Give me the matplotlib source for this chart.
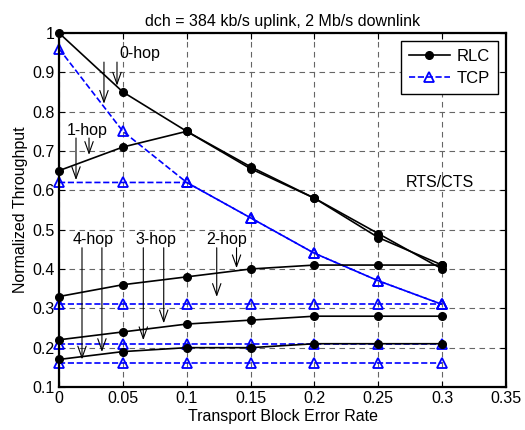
import numpy as np
import matplotlib.pyplot as plt

plt.rcParams['font.family'] = ['Liberation Sans', 'DejaVu Sans']

bler = [0, 0.05, 0.1, 0.15, 0.2, 0.25, 0.3]

# RLC throughput for 0..4 hops
rlc_0 = [1.0, 0.85, 0.75, 0.66, 0.58, 0.49, 0.40]
rlc_1 = [0.65, 0.71, 0.75, 0.655, 0.58, 0.48, 0.41]
rlc_2 = [0.33, 0.36, 0.38, 0.40, 0.41, 0.41, 0.41]
rlc_3 = [0.22, 0.24, 0.26, 0.27, 0.28, 0.28, 0.28]
rlc_4 = [0.17, 0.19, 0.20, 0.20, 0.21, 0.21, 0.21]

# TCP throughput for 0..4 hops
tcp_0 = [0.96, 0.75, 0.62, 0.53, 0.44, 0.37, 0.31]
tcp_1 = [0.62, 0.62, 0.62, 0.53, 0.44, 0.37, 0.31]
tcp_2 = [0.31, 0.31, 0.31, 0.31, 0.31, 0.31, 0.31]
tcp_3 = [0.21, 0.21, 0.21, 0.21, 0.21, 0.21, 0.21]
tcp_4 = [0.16, 0.16, 0.16, 0.16, 0.16, 0.16, 0.16]

# hop label: (text position, list of arrow (start, head))
hop_notes = [
    ("0-hop", (0.063, 0.949), [((0.0454, 0.926), (0.0454, 0.866)), ((0.0352, 0.926), (0.0352, 0.82))]),
    ("1-hop", (0.0219, 0.753), [((0.0235, 0.733), (0.0235, 0.69)), ((0.0133, 0.733), (0.0133, 0.626))]),
    ("4-hop", (0.027, 0.474), [((0.018, 0.454), (0.018, 0.17)), ((0.0336, 0.454), (0.0336, 0.189))]),
    ("3-hop", (0.0755, 0.474), [((0.066, 0.454), (0.066, 0.219)), ((0.082, 0.454), (0.082, 0.262))]),
    ("2-hop", (0.131, 0.474), [((0.1235, 0.454), (0.1235, 0.329)), ((0.139, 0.454), (0.139, 0.402))]),
]

fig = plt.figure(figsize=(5.25, 4.3), dpi=100)
ax = fig.add_axes([0.1124, 0.10, 0.8514, 0.8233])

rlc_style = dict(color='black', linestyle='-', linewidth=1.2, marker='o',
                 markersize=5.5, markerfacecolor='black')
tcp_style = dict(color='blue', linestyle='--', linewidth=1.2, marker='^',
                 markersize=7.5, markerfacecolor='none', markeredgewidth=1.3)

for i, (r, t) in enumerate(zip([rlc_0, rlc_1, rlc_2, rlc_3, rlc_4],
                               [tcp_0, tcp_1, tcp_2, tcp_3, tcp_4])):
    ax.plot(bler, t, label='TCP' if i == 0 else None, clip_on=False, **tcp_style)
    ax.plot(bler, r, label='RLC' if i == 0 else None, clip_on=False, **rlc_style)

for txt, pos, arrows in hop_notes:
    ax.text(pos[0], pos[1], txt, fontsize=11.5, ha='center', va='center')
    for start, head in arrows:
        ax.annotate('', xy=head, xytext=start,
                    arrowprops=dict(arrowstyle='->, head_length=0.7, head_width=0.25',
                                    color='black', lw=0.8, mutation_scale=12,
                                    shrinkA=0, shrinkB=0))

ax.text(0.298, 0.621, 'RTS/CTS', fontsize=11.5, ha='center', va='center')

ax.set_xlim(0, 0.35)
ax.set_ylim(0.1, 1.0)
ax.set_xticks(np.arange(0, 0.351, 0.05))
ax.set_xticklabels(['0', '0.05', '0.1', '0.15', '0.2', '0.25', '0.3', '0.35'])
ax.set_yticks(np.arange(0.1, 1.01, 0.1))
ax.set_yticklabels(['0.1', '0.2', '0.3', '0.4', '0.5', '0.6', '0.7', '0.8', '0.9', '1'])
ax.tick_params(direction='in', top=True, right=True, labelsize=11.5, length=4, pad=3)
ax.grid(True, linestyle=(0, (5, 4)), color='0.4', linewidth=0.8)
for s in ax.spines.values():
    s.set_linewidth(1.6)

ax.set_xlabel('Transport Block Error Rate', fontsize=11.5, labelpad=2)
ax.set_ylabel('Normalized Throughput', fontsize=11.5, labelpad=3)
ax.set_title('dch = 384 kb/s uplink, 2 Mb/s downlink', fontsize=11.5, pad=5)

h, l = ax.get_legend_handles_labels()
order = [l.index('RLC'), l.index('TCP')]
leg = ax.legend([h[i] for i in order], [l[i] for i in order], loc='upper right',
                fontsize=12, numpoints=1, fancybox=False, framealpha=1,
                edgecolor='black', borderaxespad=0.5, handlelength=2.5,
                borderpad=0.45, labelspacing=0.45, handletextpad=0.4)
leg.get_frame().set_linewidth(1.0)

fig.savefig('out.png', dpi=100)
